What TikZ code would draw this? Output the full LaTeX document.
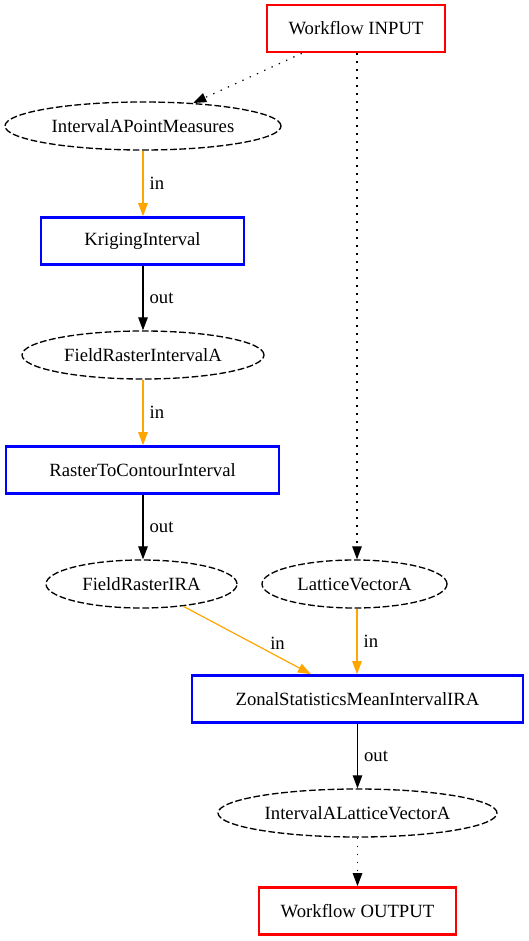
\documentclass[tikz,border=0pt]{standalone}
\usepackage{fontspec}
\setmainfont{Liberation Serif}
\usetikzlibrary{arrows.meta,shapes.geometric}
\definecolor{gvorange}{RGB}{255,165,0}
\tikzset{
  every node/.style={font=\fontsize{18.67}{22}\selectfont},
  wfbox/.style={draw=red, line width=2.67pt, rectangle, minimum height=47pt, inner sep=0pt},
  opbox/.style={draw=blue, line width=2.67pt, rectangle, minimum height=47pt, inner sep=0pt},
  dataell/.style={draw, dash pattern=on 6.67pt off 2.67pt, line width=1.33pt, ellipse, minimum height=48pt, inner sep=0pt},
  gvarrow/.style={-{Triangle[length=13pt,width=9.5pt]}, line width=1.2pt},
  flowin/.style={gvarrow, draw=gvorange, -{Triangle[length=13pt,width=9.5pt,fill=gvorange]}},
  flowout/.style={gvarrow, draw=black},
  wfedge/.style={gvarrow, dash pattern=on 1.33pt off 6.67pt},
  elab/.style={right, inner sep=0pt, text=black}
}
\begin{document}
\begin{tikzpicture}[x=1pt,y=-1pt]
\useasboundingbox (0,0) rectangle (528,941);
\node[wfbox, minimum width=178pt] (in) at (356,28.5) {Workflow INPUT};
\node[dataell, minimum width=276pt] (ipm) at (143,126) {IntervalAPointMeasures};
\node[opbox, minimum width=203pt] (krig) at (142.5,241) {KrigingInterval};
\node[dataell, minimum width=242pt] (fria) at (143,355) {FieldRasterIntervalA};
\node[opbox, minimum width=273pt] (r2c) at (142.5,470) {RasterToContourInterval};
\node[dataell, minimum width=191pt] (fra) at (141.5,584) {FieldRasterIRA};
\node[dataell, minimum width=185pt] (lat) at (354.5,584) {LatticeVectorA};
\node[opbox, minimum width=331pt] (zon) at (357.5,699) {ZonalStatisticsMeanIntervalIRA};
\node[dataell, minimum width=279pt] (ialv) at (357.5,813) {IntervalALatticeVectorA};
\node[wfbox, minimum width=197pt] (out) at (357.5,911) {Workflow OUTPUT};

\draw[wfedge] (in) -- (ipm);
\draw[wfedge] (in.south -| 357,0) -- (lat.north -| 357,0);
\draw[flowin] (ipm.south -| 143,0) -- node[elab, xshift=6pt]{in} (krig.north -| 143,0);
\draw[flowout] (krig.south -| 143,0) -- node[elab, xshift=6pt]{out} (fria.north -| 143,0);
\draw[flowin] (fria.south -| 143,0) -- node[elab, xshift=6pt]{in} (r2c.north -| 143,0);
\draw[flowout] (r2c.south -| 143,0) -- node[elab, xshift=6pt]{out} (fra.north -| 143,0);
\draw[flowin] (fra) -- node[pos=0.63, above right, inner sep=1pt, text=black, xshift=5pt, yshift=-2pt]{in} (zon);
\draw[flowin] (lat.south -| 357,0) -- node[elab, xshift=6pt]{in} (zon.north -| 357,0);
\draw[flowout] (zon) -- node[elab, xshift=6pt]{out} (ialv);
\draw[wfedge] (ialv) -- (out);
\end{tikzpicture}
\end{document}
